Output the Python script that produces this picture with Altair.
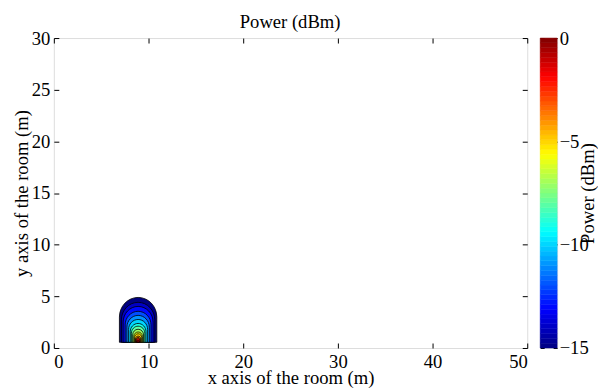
import altair as alt
import pandas as pd

# ---- data ----
# contour levels (dBm) and the outer width (m) of each contour (nested, anchored at the bottom)
levels = [-15, -14, -13, -12, -11, -10, -9, -8, -7, -6, -5, -4, -3, -2, -1]
widths = [3.95, 3.52, 3.16, 2.73, 2.37, 2.01, 1.66, 1.42, 1.15, 0.91, 0.75, 0.55, 0.43, 0.32, 0.18]
source_x = 8.9     # m
source_y = 0.55    # m (bottom of the contour set)

x_ticks = [0, 10, 20, 30, 40, 50]
y_ticks = [0, 5, 10, 15, 20, 25, 30]
cbar_ticks = [-15, -10, -5, 0]
cbar_min, cbar_max = -15, 0
n_colors = 64  # MATLAB jet(64)

# jet colormap
jet_domain = [-15, -13.125, -9.375, -5.625, -1.875, 0]
jet_range = ["#000080", "#0000ff", "#00ffff", "#ffff00", "#ff0000", "#800000"]

FONT = "Liberation Serif"
FS = 18.67

contours = pd.DataFrame({
    "level": levels,
    "span": widths,
    "px": [source_x] * len(levels),
    "py": [source_y] * len(levels),
})

step = (cbar_max - cbar_min) / n_colors
cbar = pd.DataFrame({
    "lo": [cbar_min + i * step for i in range(n_colors)],
    "hi": [cbar_min + (i + 1) * step for i in range(n_colors)],
})
cbar["mid"] = (cbar["lo"] + cbar["hi"]) / 2
cbar["cx0"] = 0
cbar["cx1"] = 1

color_scale = alt.Scale(domain=jet_domain, range=jet_range, interpolate="rgb")
xs = alt.Scale(domain=[0, 50], nice=False, zero=False)
ys = alt.Scale(domain=[0, 30], nice=False, zero=False)
# width in metres -> symbol area in px^2 (x scale is 9.5 px per metre)
size_scale = alt.Scale(type="pow", exponent=2, domain=[0, 5], range=[0, 2256.25], zero=True)

bullet = "M-1,0L-1,-1.35A1,1.05 0 0,1 1,-1.35L1,0Z"

ax_common = dict(domain=False, grid=False, tickSize=5, offset=-5, tickColor="black",
                 tickWidth=1, minExtent=0, labelFont=FONT, labelFontSize=FS, labelColor="black",
                 titleFont=FONT, titleFontSize=FS, titleFontWeight="normal", titleColor="black")

# tick-only mirror axes: no labels, and an empty title kept inside the plot so it takes no room
mirror = dict(ax_common)
mirror.update(labels=False, title="", titleFontSize=1, titlePadding=0)

main_layer = alt.Chart(contours).mark_point(
    shape=bullet, filled=True, stroke="black", strokeWidth=0.8, opacity=1, fillOpacity=1
).encode(
    x=alt.X("px:Q", scale=xs, axis=alt.Axis(orient="bottom", values=x_ticks, labelPadding=5,
                                           title="x axis of the room (m)", titleBaseline="alphabetic",
                                           titleY=41, **ax_common)),
    y=alt.Y("py:Q", scale=ys, axis=alt.Axis(orient="left", values=y_ticks, labelPadding=4,
                                           title="y axis of the room (m)", titleBaseline="alphabetic",
                                           titleX=-31, **ax_common)),
    fill=alt.Fill("level:Q", scale=color_scale, legend=None),
    size=alt.Size("span:Q", scale=size_scale, legend=None),
    order=alt.Order("span:Q", sort="descending"),
)

frame_layer = alt.Chart(contours).mark_point(opacity=0).encode(
    x=alt.X("px:Q", scale=xs, axis=alt.Axis(orient="top", values=x_ticks, titleX=200, titleY=100, **mirror)),
    y=alt.Y("py:Q", scale=ys, axis=alt.Axis(orient="right", values=y_ticks, titleX=-200, titleY=150, **mirror)),
)

main = alt.layer(main_layer, frame_layer).resolve_axis(x="independent", y="independent").properties(
    width=475, height=311,
)

cb_common = dict(ax_common)
cb_common.update(tickSize=4, offset=-4)
cb_mirror = dict(mirror)
cb_mirror.update(tickSize=4, offset=-4)
cys = alt.Scale(domain=[cbar_min, cbar_max], nice=False, zero=False)
cxs = alt.Scale(domain=[0, 1], nice=False, zero=False)

cb_fill = alt.Chart(cbar).mark_rect(strokeWidth=0.5).encode(
    x=alt.X("cx0:Q", scale=cxs, axis=None),
    x2="cx1:Q",
    y=alt.Y("lo:Q", scale=cys, axis=alt.Axis(orient="right", values=cbar_ticks, labelPadding=2,
                                            title="Power (dBm)", titleAngle=270, titleBaseline="alphabetic",
                                            titleX=40.5, **cb_common)),
    y2="hi:Q",
    fill=alt.Fill("mid:Q", scale=color_scale, legend=None),
    stroke=alt.Stroke("mid:Q", scale=color_scale, legend=None),
)
cb_left = alt.Chart(cbar).mark_rect(opacity=0).encode(
    x=alt.X("cx0:Q", scale=cxs, axis=None),
    x2="cx1:Q",
    y=alt.Y("lo:Q", scale=cys, axis=alt.Axis(orient="left", values=cbar_ticks, titleX=8, titleY=150, **cb_mirror)),
    y2="hi:Q",
)
colorbar = alt.layer(cb_fill, cb_left).resolve_axis(y="independent").properties(width=17, height=311)

chart = alt.hconcat(main, colorbar, spacing=13, bounds="flush").resolve_scale(
    x="independent", y="independent", fill="independent", size="independent", stroke="independent"
).properties(
    title=alt.TitleParams("Power (dBm)", font=FONT, fontSize=FS, fontWeight="normal", color="black",
                          anchor="middle", frame="bounds", baseline="alphabetic", offset=-18, dx=-15),
).configure_view(stroke="black", strokeWidth=1).configure(
    padding={"left": 4, "top": 3.5, "right": 0, "bottom": 0}, background="white"
)

chart.save("out.html", embed_options={"renderer": "svg", "actions": False})
